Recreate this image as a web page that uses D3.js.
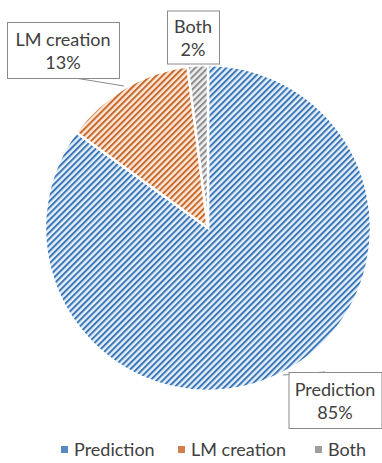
<!DOCTYPE html>
<html>
<head>
    <script src="https://d3js.org/d3.v7.min.js"></script>
    <style>
        body { margin: 0; background: #fff; }
        svg { font-family: Lato, "Liberation Sans", sans-serif; }
        .lbl rect { fill: #fff; stroke: #8a8a8a; stroke-width: 1; }
        .lbl text { fill: #404040; font-size: 18px; text-anchor: middle; }
        .legend text { fill: #404040; font-size: 18px; }
    </style>
</head>
<body>
<script>
    // data
    var categories = ["Prediction", "LM creation", "Both"];
    var values = [85, 13, 2];
    var percentLabels = ["85%", "13%", "2%"];

    var width = 382, height = 463;
    var cx = 208, cy = 228, radius = 163;

    // pattern colours per slice
    var lineColor = ["#3b76b6", "#c76a2e", "#8d8d8d"],
        bgColor = ["#e6f0fb", "#fde8d9", "#efefef"];

    // label boxes placed around the pie (offset of box centre from pie centre)
    var labelBox = [
        {dx: 127, dy: 172, w: 93, h: 56, leader: true},
        {dx: -145, dy: -178, w: 112, h: 56, leader: true},
        {dx: -15, dy: -191, w: 52, h: 53, leader: false}
    ];

    var svg = d3.select("body").append("svg")
        .attr("width", width)
        .attr("height", height);

    var defs = svg.append("defs");
    categories.forEach(function (c, i) {
        var p = defs.append("pattern")
            .attr("id", "hatch" + i)
            .attr("patternUnits", "userSpaceOnUse")
            .attr("width", 4.4)
            .attr("height", 4.4)
            .attr("patternTransform", "rotate(-45)");
        p.append("rect")
            .attr("width", 4.4).attr("height", 4.4)
            .attr("fill", bgColor[i]);
        p.append("rect")
            .attr("width", 4.4).attr("height", 2)
            .attr("fill", lineColor[i]);
    });

    var pie = d3.pie().sort(null).value(function (d) { return d; });
    var arcs = pie(values);

    var arc = d3.arc().innerRadius(0).outerRadius(radius);

    var g = svg.append("g")
        .attr("transform", "translate(" + cx + "," + cy + ")");

    g.selectAll("path.slice")
        .data(arcs)
        .enter()
        .append("path")
        .attr("class", "slice")
        .attr("d", arc)
        .attr("fill", function (d, i) { return "url(#hatch" + i + ")"; })
        .attr("stroke", "#fff")
        .attr("stroke-width", 2.5);

    // leader lines
    arcs.forEach(function (d, i) {
        var b = labelBox[i];
        if (!b.leader) return;
        var a = (d.startAngle + d.endAngle) / 2;
        var sx = Math.sin(a) * (radius + 2), sy = -Math.cos(a) * (radius + 2);
        var ex, ey;
        if (b.dy < 0) { ex = b.dx + 12; ey = b.dy + b.h / 2; }
        else { ex = b.dx - 10; ey = b.dy - b.h / 2; }
        g.append("line")
            .attr("x1", sx).attr("y1", sy)
            .attr("x2", ex).attr("y2", ey)
            .attr("stroke", "#8a8a8a")
            .attr("stroke-width", 1);
    });

    var lbl = g.selectAll(".lbl")
        .data(arcs)
        .enter()
        .append("g")
        .attr("class", "lbl")
        .attr("transform", function (d, i) {
            return "translate(" + labelBox[i].dx + "," + labelBox[i].dy + ")";
        });

    lbl.append("rect")
        .attr("x", function (d, i) { return -labelBox[i].w / 2 + 0.5; })
        .attr("y", function (d, i) { return -labelBox[i].h / 2 + 0.5; })
        .attr("width", function (d, i) { return labelBox[i].w; })
        .attr("height", function (d, i) { return labelBox[i].h; });

    lbl.append("text")
        .attr("y", -4)
        .text(function (d, i) { return categories[i]; });
    lbl.append("text")
        .attr("y", 19)
        .text(function (d, i) { return percentLabels[i]; });

    // legend
    var legendX = [61, 178, 315];
    var legend = svg.append("g").attr("class", "legend")
        .attr("transform", "translate(0,450)");
    var item = legend.selectAll("g")
        .data(categories)
        .enter()
        .append("g")
        .attr("transform", function (d, i) { return "translate(" + legendX[i] + ",0)"; });
    item.append("rect")
        .attr("x", 0).attr("y", -4)
        .attr("width", 7).attr("height", 7)
        .attr("fill", function (d, i) { return lineColor[i]; })
        .attr("opacity", 0.85);
    item.append("text")
        .attr("x", 13)
        .attr("y", 6)
        .text(function (d) { return d; });
</script>
</body>
</html>
